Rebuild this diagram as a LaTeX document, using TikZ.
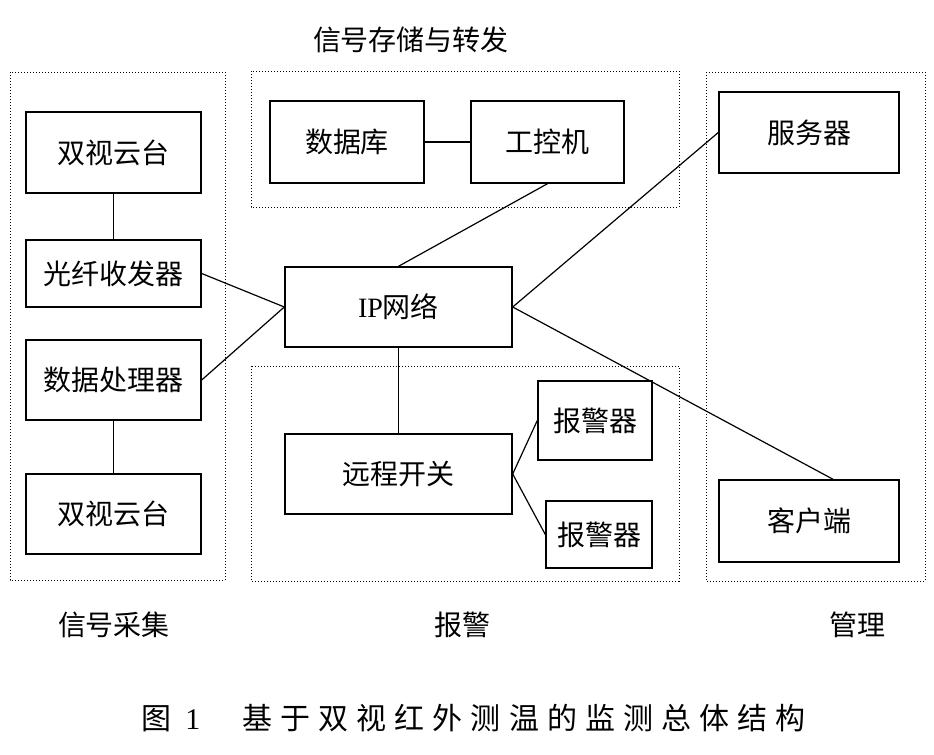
\documentclass[tikz,border=0pt]{standalone}
\usepackage{fontspec}
\setmainfont{Noto Sans CJK SC}
\newfontfamily\latinfont{Liberation Serif}
\newfontfamily\capfont[LetterSpace=27]{Noto Sans CJK SC}
\usetikzlibrary{positioning}

\begin{document}
\begin{tikzpicture}[x=0.5pt,y=-0.5pt,
    every node/.style={font=\fontsize{14}{16}\selectfont},
    box/.style={draw,line width=0.7pt,inner sep=0pt},
    boxsize/.style 2 args={minimum width=#1*0.5pt,minimum height=#2*0.5pt},
    group/.style={densely dotted,line width=0.5pt},
    link/.style={line width=0.6pt}]
  \useasboundingbox (0,0) rectangle (934,755);
  \draw[group] (10,72) rectangle (225,580);
  \draw[group] (251,71) rectangle (679,207);
  \draw[group] (251,366) rectangle (679,581);
  \draw[group] (706,72) rectangle (925,581);
  \node (cc) at (411,40) {信号存储与转发};
  \node (cj) at (114,625) {信号采集};
  \node (bjl) at (462,625) {报警};
  \node (gl) at (857,625) {管理};
  \node[box,boxsize={175}{81}] (pt1) at (113.5,152.5) {双视云台};
  \node[box,boxsize={175}{67}] (gx) at (113.5,273.5) {光纤收发器};
  \node[box,boxsize={175}{80}] (sj) at (113.5,380) {数据处理器};
  \node[box,boxsize={175}{80}] (pt2) at (113.5,514) {双视云台};
  \node[box,boxsize={154}{82}] (db) at (347,142) {数据库};
  \node[box,boxsize={153}{82}] (ipc) at (547.5,142) {工控机};
  \node[box,boxsize={227}{80}] (ip) at (398.5,307) {{\latinfont IP}网络};
  \node[box,boxsize={227}{80}] (kg) at (398.5,474) {远程开关};
  \node[box,boxsize={114}{79}] (bj1) at (595,420.5) {报警器};
  \node[box,boxsize={106}{67}] (bj2) at (599,534.5) {报警器};
  \node[box,boxsize={180}{81}] (fw) at (809,132.5) {服务器};
  \node[box,boxsize={180}{82}] (kh) at (809,521) {客户端};
  \draw[link] (pt1) -- (gx);
  \draw[link] (sj) -- (pt2);
  \draw[link] (db) -- (ipc);
  \draw[link] (gx.east) -- (ip.west);
  \draw[link] (sj.east) -- (ip.west);
  \draw[link] (ip.north) -- (ipc.south);
  \draw[link] (ip.east) -- (fw.west);
  \draw[link] (ip.east) -- (kh.60);
  \draw[link] (ip) -- (kg);
  \draw[link] (kg.east) -- (bj1.west);
  \draw[link] (kg.east) -- (bj2.west);
  \node[anchor=west,inner sep=0pt,font=\fontsize{15}{18}\capfont] (cap) at (141,718)
    {图\hspace{7pt}{\latinfont 1}\hspace{21pt}基于双视红外测温的监测总体结构};
\end{tikzpicture}
\end{document}
